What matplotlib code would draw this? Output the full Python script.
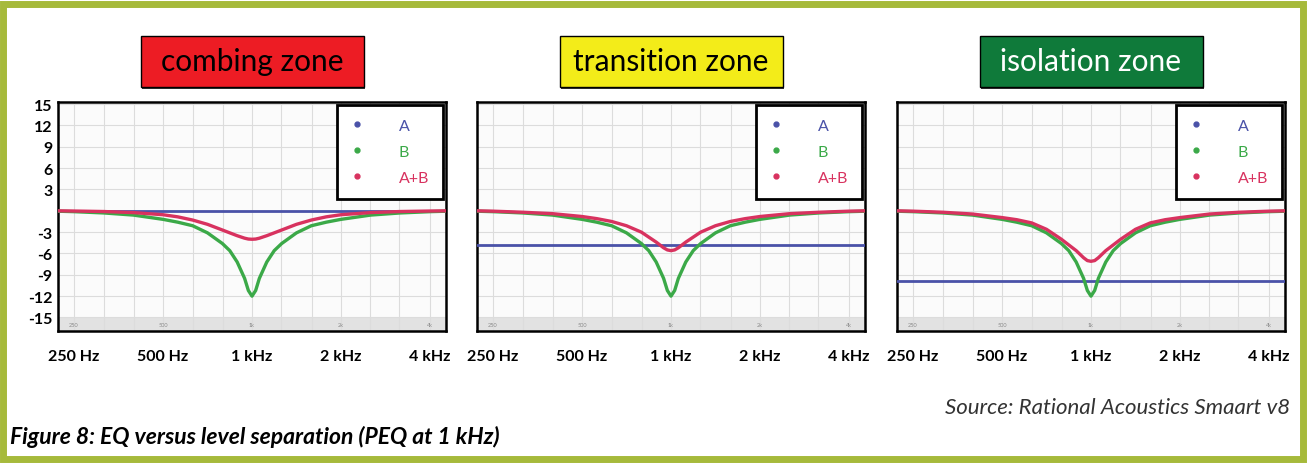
import matplotlib
matplotlib.use('Agg')
import matplotlib.pyplot as plt
from matplotlib.patches import Rectangle
from matplotlib.lines import Line2D
from matplotlib.ticker import NullFormatter

plt.rcParams['font.family'] = ['Lato', 'DejaVu Sans']

# samples (Hz / dB)
freq = [218, 250, 315, 397, 500, 561, 630, 707, 794, 841, 891, 944, 972,
        1000, 1029, 1059, 1122, 1189, 1260, 1414, 1587, 1782, 2000, 2520,
        3175, 4000, 4595]
b_curve = [-0.05, -0.12, -0.3, -0.6, -1.2, -1.6, -2.1, -3.1, -4.6, -5.6, -7.2, -9.5, -11.2,
           -12.0, -11.2, -9.5, -7.2, -5.6, -4.6, -3.1, -2.1, -1.6, -1.2, -0.6,
           -0.3, -0.12, -0.05]
ab_combing = [0.0, -0.03, -0.1, -0.25, -0.55, -0.85, -1.3, -1.9, -2.7, -3.1, -3.5, -3.85, -3.97,
              -4.0, -3.97, -3.85, -3.5, -3.1, -2.7, -1.9, -1.3, -0.85, -0.55, -0.25,
              -0.1, -0.03, 0.0]
ab_transition = [0.0, -0.05, -0.2, -0.4, -0.8, -1.1, -1.5, -2.1, -3.0, -3.7, -4.4, -5.2, -5.5,
                 -5.6, -5.5, -5.2, -4.4, -3.7, -3.0, -2.1, -1.5, -1.1, -0.8, -0.4,
                 -0.2, -0.05, 0.0]
ab_isolation = [0.0, -0.05, -0.2, -0.45, -0.95, -1.25, -1.7, -2.6, -4.0, -4.8, -5.6, -6.6, -7.0,
                -7.1, -7.0, -6.6, -5.6, -4.8, -4.0, -2.6, -1.7, -1.25, -0.95, -0.45,
                -0.2, -0.05, 0.0]
a_levels = [0.0, -4.8, -9.8]

zones = ['combing zone', 'transition zone', 'isolation zone']
zone_colors = ['#ED1C24', '#F3EC19', '#0F7A3A']
zone_text = ['black', 'black', 'white']

grid_freqs = [250, 315, 400, 500, 630, 800, 1000, 1250, 1600, 2000, 2500, 3150, 4000]
major_freqs = [250, 500, 1000, 2000, 4000]
major_labels = ['250 Hz', '500 Hz', '1 kHz', '2 kHz', '4 kHz']
strip_labels = ['250', '500', '1k', '2k', '4k']
db_ticks = [15, 12, 9, 6, 3, 0, -3, -6, -9, -12, -15]
db_labels = ['15', '12', '9', '6', '3', '', '-3', '-6', '-9', '-12', '-15']

blue = '#4A52A8'
green = '#3BA948'
red = '#D8325F'

W, H = 1308, 464
fig = plt.figure(figsize=(W / 100, H / 100), dpi=100)

# olive frame round the whole figure
fig.patches.append(Rectangle((2.5 / W, 4 / H), 1300 / W, 455 / H, fill=False,
                             edgecolor='#A6BA3B', lw=5, transform=fig.transFigure))

lefts = [58, 477, 897]
ab_curves = [ab_combing, ab_transition, ab_isolation]
for i in range(3):
    ax = fig.add_axes([lefts[i] / W, 1 - 332 / H, 388 / W, 229 / H])
    ax.set_facecolor('#FBFBFB')
    ax.set_xscale('log')
    ax.set_xlim(220.7, 4531)
    ax.set_ylim(-16.9, 15.3)
    ax.axhspan(-16.9, -15, color='#E2E2E2', zorder=0.5, lw=0)

    ax.set_xticks(grid_freqs, minor=True)
    ax.set_xticks(major_freqs)
    ax.set_xticklabels(major_labels, fontweight='bold', fontsize=11.5)
    ax.xaxis.set_minor_formatter(NullFormatter())
    ax.set_yticks(db_ticks)
    ax.set_yticklabels(db_labels if i == 0 else [], fontweight='bold', fontsize=11.5)
    ax.tick_params(which='both', length=0)
    ax.tick_params(axis='x', pad=13)
    ax.tick_params(axis='y', pad=4)
    ax.grid(True, which='both', color='#DCDCDC', lw=0.8)
    ax.set_axisbelow(True)
    for s in ax.spines.values():
        s.set_linewidth(1.8)
        s.set_color('black')

    for f, t in zip(major_freqs, strip_labels):
        ax.text(f, -15.95, t, fontsize=4, color='#8A8A8A', ha='center', va='center')

    ax.axhline(a_levels[i], color=blue, lw=2.0, zorder=3)
    ax.plot(freq, b_curve, color=green, lw=2.4, zorder=4)
    ax.plot(freq, ab_curves[i], color=red, lw=2.4, zorder=5)

    handles = [Line2D([], [], marker='o', ls='none', color=c, markersize=3.5)
               for c in (blue, green, red)]
    leg = ax.legend(handles, ['A', 'B', 'A+B'], loc='upper right',
                    bbox_to_anchor=(0.992, 0.987), borderaxespad=0, fancybox=False,
                    edgecolor='black', framealpha=1, fontsize=11.5, borderpad=0.85,
                    labelspacing=0.75, handlelength=0.7, handletextpad=2.3)
    leg.get_frame().set_linewidth(2)
    for t, c in zip(leg.get_texts(), (blue, green, red)):
        t.set_color(c)

    # zone title box centred over the panel
    cx = lefts[i] + 194
    fig.patches.append(Rectangle(((cx - 110) / W, 1 - 90 / H), 223 / W, 51 / H,
                                 facecolor='#333333', edgecolor='none',
                                 transform=fig.transFigure))
    fig.patches.append(Rectangle(((cx - 111.5) / W, 1 - 88 / H), 223 / W, 51 / H,
                                 facecolor=zone_colors[i], edgecolor='black', lw=1.0,
                                 transform=fig.transFigure))
    fig.text(cx / W, 1 - 62 / H, zones[i], fontsize=21.5, color=zone_text[i],
             ha='center', va='center')

fig.text(1290 / W, 1 - 408 / H, 'Source: Rational Acoustics Smaart v8',
         fontsize=16, style='italic', color='#333333', ha='right', va='center')
fig.text(10 / W, 1 - 437 / H, 'Figure 8: EQ versus level separation (PEQ at 1 kHz)',
         fontsize=16.5, style='italic', fontweight='bold', ha='left', va='center')

fig.savefig('out.png', dpi=100)
